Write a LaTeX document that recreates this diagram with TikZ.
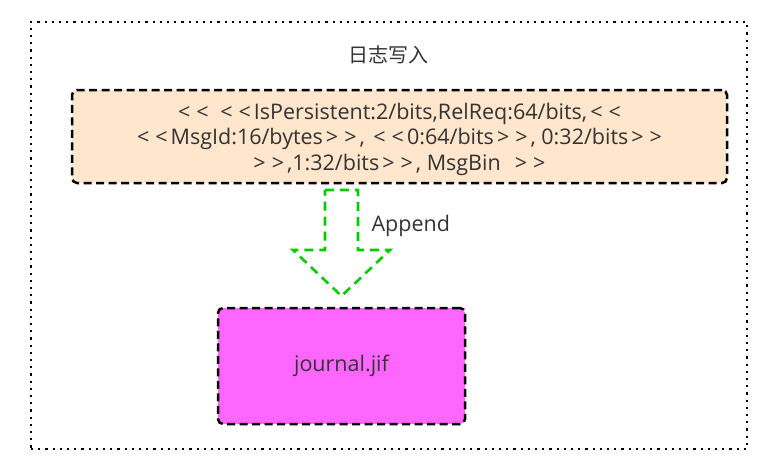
\documentclass[tikz,border=0pt]{standalone}
\usepackage{fontspec}
\setmainfont{Open Sans}
\newfontfamily\cjk{Noto Sans CJK SC}
\definecolor{peach}{HTML}{FFE6CC}
\definecolor{magentafill}{HTML}{FF66FF}
\definecolor{arrowgreen}{HTML}{00CC00}
\definecolor{txt}{HTML}{333333}
\newcommand\myl{\kern3pt<\kern3pt}
\newcommand\myg{\kern3pt>\kern3pt}
\begin{document}
\begin{tikzpicture}[x=1pt,y=-1pt,
  boxstyle/.style={draw=black,line width=2.5pt,dash pattern=on 8pt off 4.5pt,rounded corners=5pt,inner sep=0pt},
  labelstyle/.style={text=txt,font=\fontsize{21.5}{25.5}\selectfont,align=center},
  outerstyle/.style={draw=black,line width=2.2pt,dash pattern=on 2.2pt off 5pt}]
\useasboundingbox (0,0) rectangle (772,472);
\node[outerstyle,minimum width=716pt,minimum height=427pt,inner sep=0pt] (outer) at (389,235.5) {};
\node[labelstyle,font=\fontsize{20}{24}\selectfont] (title) at (388,55) {\cjk 日志写入};
\node[boxstyle,fill=peach,minimum width=655pt,minimum height=93pt] (msg) at (399.5,136.5) {};
\node[labelstyle] (msgtxt) at (399.5,139) {\myl\myl\ \myl\myl IsPersistent:2/bits,RelReq:64/bits,\myl\myl\\
\myl\myl MsgId:16/bytes\myg\myg, \myl\myl 0:64/bits\myg\myg, 0:32/bits\myg\myg\\
\myg\myg,1:32/bits\myg\myg, MsgBin\ \ \myg\myg};
\node[boxstyle,fill=magentafill,minimum width=247pt,minimum height=116pt] (jif) at (341.5,366) {};
\node[labelstyle] (jiftxt) at (341.5,366) {journal.jif};
\coordinate (a1) at (325,190);
\coordinate (a2) at (358,190);
\coordinate (a3) at (358,250);
\coordinate (a4) at (390,250);
\coordinate (a5) at (341.5,296);
\coordinate (a6) at (293,250);
\coordinate (a7) at (325,250);
\draw[draw=arrowgreen,line width=2.6pt,dash pattern=on 9pt off 6pt,fill=white] (a1) -- (a2) -- (a3) -- (a4) -- (a5) -- (a6) -- (a7) -- cycle;
\node[labelstyle,anchor=west] (append) at (368,226) {Append};
\end{tikzpicture}
\end{document}
